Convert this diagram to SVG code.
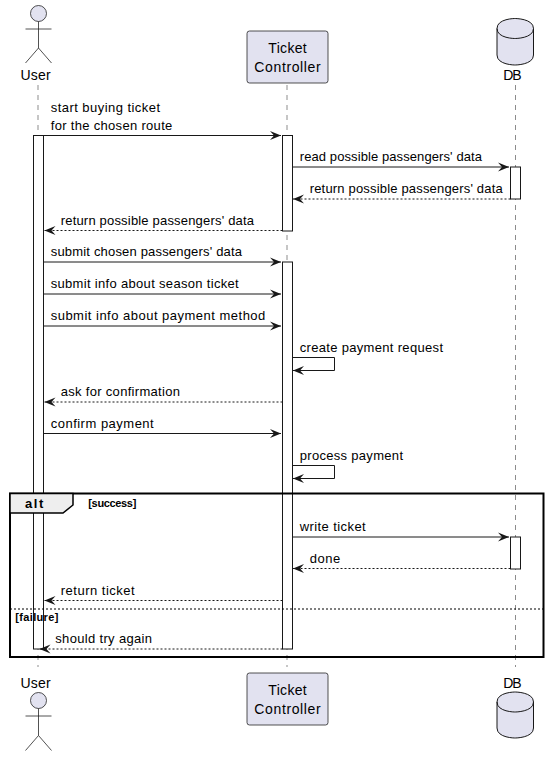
<svg xmlns="http://www.w3.org/2000/svg" width="550" height="757" viewBox="0 0 550 757">
<style>
text{font-family:"Liberation Sans",Arial,sans-serif;fill:#000}
.m{font-size:13px}
.t{font-size:14px}
.g{font-size:11px;font-weight:bold}
.ll{stroke:#181818;stroke-width:.5;stroke-dasharray:5,5;fill:none}
.a{fill:#fff;stroke:#181818;stroke-width:1}
.s{stroke:#181818;stroke-width:1;fill:none;marker-end:url(#h)}
.d{stroke:#181818;stroke-width:1;fill:none;stroke-dasharray:2,2;marker-end:url(#h)}
.p{fill:#E2E2F0;stroke:#181818;stroke-width:.75}
.b{fill:#E2E2F0;stroke:#181818;stroke-width:1}
</style>
<defs>
<marker id="h" markerUnits="userSpaceOnUse" markerWidth="14" markerHeight="12" refX="11" refY="4.500" orient="auto" overflow="visible"><polygon points="0,0 11,4.500 0,9 4,4.500" fill="#181818"/></marker>
</defs>
<g id="lifelines">
<line class="ll" x1="38" y1="85" x2="38" y2="667"/>
<line class="ll" x1="287" y1="85" x2="287" y2="667"/>
<line class="ll" x1="515.5" y1="85" x2="515.5" y2="667"/>
</g>
<g id="user-top">
<circle class="p" cx="38.5" cy="13.5" r="8"/>
<path class="p" style="fill:none" d="M38.5 21.5V48M25.5 29H51.5M25.5 63L38.5 48L51.5 63"/>
<text class="t" x="20.500" y="80" textLength="30.200">User</text>
</g>
<g id="controller-top">
<rect class="p" x="247" y="31" width="81" height="52" rx="2.5" ry="2.5"/>
<text class="t" x="268.300" y="53" textLength="38.400">Ticket</text>
<text class="t" x="254.300" y="72" textLength="66.400">Controller</text>
</g>
<g id="db-top">
<path class="b" d="M497 28.500C497 18.500 515 18.500 515 18.500C515 18.500 533.500 18.500 533.500 28.500V55C533.500 65 515 65 515 65C515 65 497 65 497 55Z"/>
<path class="b" style="fill:none" d="M497 28.500C497 38.500 515 38.500 515 38.500C515 38.500 533.500 38.500 533.500 28.500"/>
<text class="t" x="503.300" y="80" textLength="18.400">DB</text>
</g>
<g id="activations">
<rect class="a" x="33.500" y="135.500" width="10" height="513.500"/>
<rect class="a" x="282.500" y="135.500" width="10" height="95.500"/>
<rect class="a" x="282.500" y="262" width="10" height="387"/>
<rect class="a" x="510.500" y="167" width="10" height="32"/>
<rect class="a" x="510.500" y="537" width="10" height="32"/>
</g>
<g id="connectors">
<line class="s" x1="43.500" y1="135.500" x2="281" y2="135.500"/>
<line class="s" x1="292.500" y1="167" x2="509" y2="167"/>
<line class="d" x1="510.500" y1="199" x2="293" y2="199"/>
<line class="d" x1="282.500" y1="230.500" x2="44.500" y2="230.500"/>
<line class="s" x1="43.500" y1="262" x2="281" y2="262"/>
<line class="s" x1="43.500" y1="294" x2="281" y2="294"/>
<line class="s" x1="43.500" y1="326" x2="281" y2="326"/>
<path class="s" d="M292.500 357.500H334.500V370.500H293"/>
<line class="d" x1="282.500" y1="402" x2="44.500" y2="402"/>
<line class="s" x1="43.500" y1="433.500" x2="281" y2="433.500"/>
<path class="s" d="M292.500 465.500H334.500V478.500H293"/>
<line class="s" x1="292.500" y1="537" x2="509" y2="537"/>
<line class="d" x1="510.500" y1="568.500" x2="293" y2="568.500"/>
<line class="d" x1="282.500" y1="600.500" x2="44.500" y2="600.500"/>
<line class="d" x1="282.500" y1="649" x2="39.500" y2="649"/>
</g>
<g id="labels">
<text class="m" x="50.700" y="112" textLength="109.300">start buying ticket</text>
<text class="m" x="50.700" y="130" textLength="121.600">for the chosen route</text>
<text class="m" x="299.700" y="161" textLength="182.300">read possible passengers' data</text>
<text class="m" x="309.700" y="193" textLength="193">return possible passengers' data</text>
<text class="m" x="60.700" y="225" textLength="193.300">return possible passengers' data</text>
<text class="m" x="50.700" y="256" textLength="191.300">submit chosen passengers' data</text>
<text class="m" x="50.700" y="288" textLength="188">submit info about season ticket</text>
<text class="m" x="50.700" y="320" textLength="214.600">submit info about payment method</text>
<text class="m" x="299.700" y="352" textLength="143.300">create payment request</text>
<text class="m" x="60.700" y="396" textLength="119.300">ask for confirmation</text>
<text class="m" x="50.700" y="428" textLength="103">confirm payment</text>
<text class="m" x="299.700" y="460" textLength="103.300">process payment</text>
<text class="m" x="299.700" y="531" textLength="66">write ticket</text>
<text class="m" x="309.700" y="563" textLength="30.600">done</text>
<text class="m" x="60.700" y="595" textLength="74">return ticket</text>
<text class="m" x="55.300" y="643" textLength="96.700">should try again</text>
</g>
<g id="alt">
<rect x="10" y="493.500" width="533.500" height="163.500" fill="none" stroke="#000" stroke-width="2"/>
<path d="M10 493.500H73V505L63 513H10Z" fill="#EEEEEE" stroke="#000" stroke-width="1.500"/>
<text x="25" y="508" textLength="18.300" style="font-size:13px;font-weight:bold">alt</text>
<text class="g" x="88.300" y="507" textLength="48">[success]</text>
<line x1="10" y1="609" x2="543.500" y2="609" stroke="#000" stroke-width="1" stroke-dasharray="2,2"/>
<text class="g" x="15.300" y="621" textLength="43">[failure]</text>
</g>
<g id="user-bottom">
<text class="t" x="20.500" y="688" textLength="30.200">User</text>
<circle class="p" cx="38.500" cy="700.500" r="8"/>
<path class="p" style="fill:none" d="M38.500 708.500V735.500M25.500 716H51.500M25.500 750.500L38.500 735.500L51.500 750.500"/>
</g>
<g id="controller-bottom">
<rect class="p" x="247" y="673" width="81" height="52" rx="2.500" ry="2.500"/>
<text class="t" x="268.300" y="695" textLength="38.400">Ticket</text>
<text class="t" x="254.300" y="714" textLength="66.400">Controller</text>
</g>
<g id="db-bottom">
<text class="t" x="503.300" y="688" textLength="18.400">DB</text>
<path class="b" d="M497 702C497 692 515 692 515 692C515 692 533.500 692 533.500 702V728C533.500 738 515 738 515 738C515 738 497 738 497 728Z"/>
<path class="b" style="fill:none" d="M497 702C497 712 515 712 515 712C515 712 533.500 712 533.500 702"/>
</g>
</svg>
